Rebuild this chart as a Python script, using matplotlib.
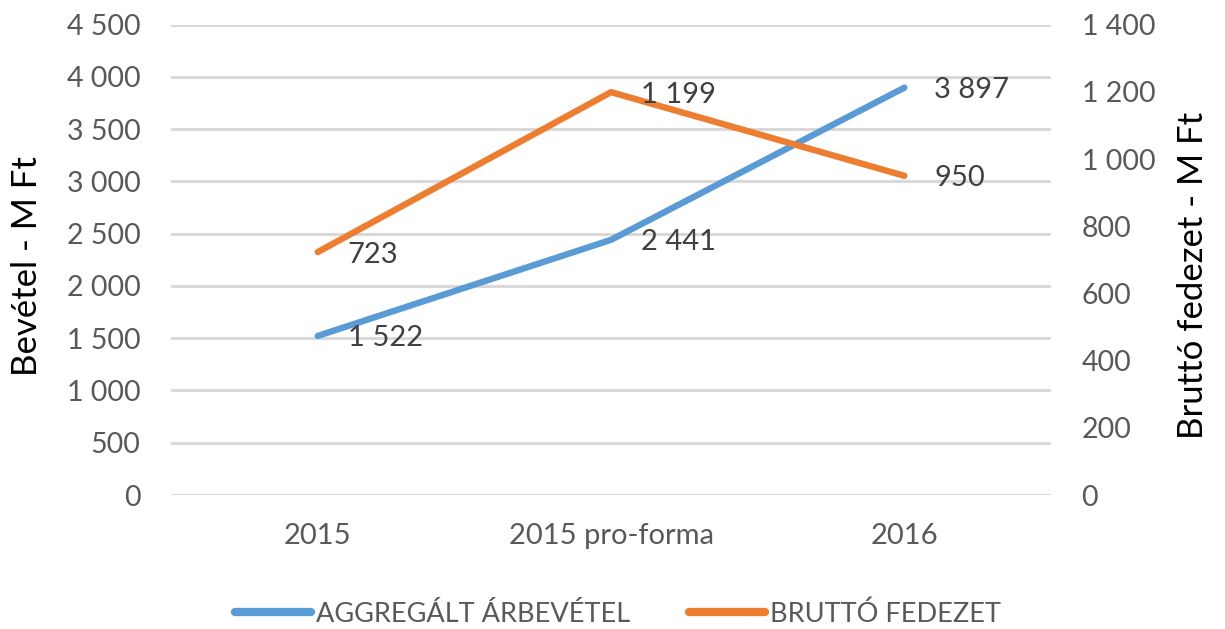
import matplotlib
matplotlib.use("Agg")
import matplotlib.pyplot as plt
from matplotlib.ticker import FuncFormatter, MultipleLocator

categories = ["2015", "2015 pro-forma", "2016"]
revenue = [1522, 2441, 3897]
gross_margin = [723, 1199, 950]
series_names = ["AGGREGÁLT ÁRBEVÉTEL", "BRUTTÓ FEDEZET"]
left_title = "Bevétel - M Ft"
right_title = "Bruttó fedezet - M Ft"

BLUE = "#5B9BD5"
ORANGE = "#ED7D31"
GRID = "#D9D9D9"
TICK = "#595959"
LABEL = "#404040"

main_font = ["Lato", "DejaVu Sans"]

def fmt(v, pos=None):
    return f"{v:,.0f}".replace(",", " ")

fig = plt.figure(figsize=(12.25, 6.29), dpi=100)
ax = fig.add_axes([0.1396, 0.2130, 0.7184, 0.7479])
ax2 = ax.twinx()

x = list(range(len(categories)))
l1, = ax.plot(x, revenue, color=BLUE, lw=4.6, solid_capstyle="round", zorder=3)
l2, = ax2.plot(x, gross_margin, color=ORANGE, lw=4.6, solid_capstyle="round", zorder=3)

ax.set_xlim(-0.5, 2.5)
ax.set_ylim(0, 4500)
ax2.set_ylim(0, 1400)
ax.yaxis.set_major_locator(MultipleLocator(500))
ax2.yaxis.set_major_locator(MultipleLocator(200))
ax.yaxis.set_major_formatter(FuncFormatter(fmt))
ax2.yaxis.set_major_formatter(FuncFormatter(fmt))
ax.set_xticks(x)
ax.set_xticklabels(categories)

ax.grid(axis="y", color=GRID, lw=2.2, zorder=0)
ax.set_axisbelow(True)
for a in (ax, ax2):
    for s in a.spines.values():
        s.set_visible(False)
    a.tick_params(length=0, colors=TICK)

ax.tick_params(axis="y", pad=22)
ax2.tick_params(axis="y", pad=22)
ax.tick_params(axis="x", pad=20)
for t in ax.get_yticklabels() + ax2.get_yticklabels():
    t.set_fontfamily(main_font)
    t.set_fontsize(20.5)
    t.set_color(TICK)
for t in ax.get_xticklabels():
    t.set_fontfamily(main_font)
    t.set_fontsize(21)
    t.set_color(TICK)

for xi, v in zip(x, revenue):
    ax.annotate(fmt(v), (xi, v), xytext=(30, 0), textcoords="offset pixels",
                ha="left", va="center_baseline", fontsize=21, color=LABEL,
                family=main_font, zorder=5)
for xi, v in zip(x, gross_margin):
    ax2.annotate(fmt(v), (xi, v), xytext=(30, 0), textcoords="offset pixels",
                 ha="left", va="center_baseline", fontsize=21, color=LABEL,
                 family=main_font, zorder=5)

fig.text(27 / 1225, 1 - 266 / 629, left_title, rotation=90, ha="center", va="center",
         fontsize=25, color="black", family=main_font)
fig.text(1193 / 1225, 1 - 275 / 629, right_title, rotation=90, ha="center", va="center",
         fontsize=25, color="black", family=main_font)

leg = fig.legend([l1, l2], series_names, loc="center", bbox_to_anchor=(618 / 1225, 1 - 614 / 629),
                 ncol=2, frameon=False, handlelength=2.78, handletextpad=0.18,
                 columnspacing=2.2, prop={"family": main_font, "size": 19.5})
for t in leg.get_texts():
    t.set_color(TICK)
for h in leg.get_lines():
    h.set_linewidth(6)

fig.savefig("out.png", dpi=100)
